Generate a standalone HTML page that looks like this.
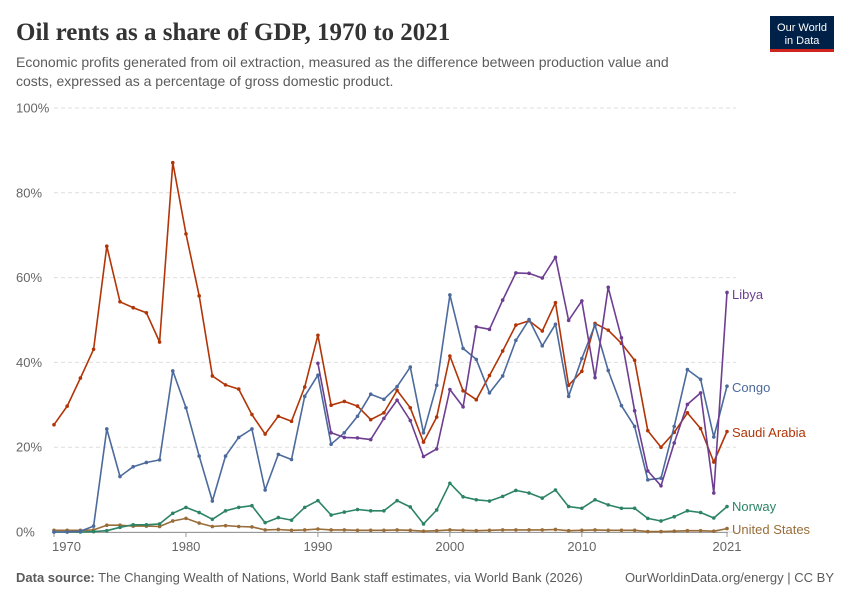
<!DOCTYPE html>
<html><head><meta charset="utf-8">
<style>
body{margin:0;background:#fff;width:850px;height:600px;overflow:hidden;font-family:"Liberation Sans",sans-serif;}
svg text{font-family:"Liberation Sans",sans-serif;}
</style></head>
<body>
<svg id="chart" width="850" height="600" viewBox="0 0 850 600">
<text x="16" y="40" font-size="25" fill="#333" font-weight="bold" style="font-family:'Liberation Serif',serif">Oil rents as a share of GDP, 1970 to 2021</text>
<text x="16" y="67" font-size="14" fill="#5b5b5b">Economic profits generated from oil extraction, measured as the difference between production value and</text>
<text x="16" y="86" font-size="14" fill="#5b5b5b">costs, expressed as a percentage of gross domestic product.</text>
<g>
<rect x="770" y="16" width="64" height="35" fill="#002147"/>
<rect x="770" y="49" width="64" height="3" fill="#ce261e"/>
<text x="802" y="31" font-size="11" fill="#fff" text-anchor="middle">Our World</text>
<text x="802" y="44" font-size="11" fill="#fff" text-anchor="middle">in Data</text>
</g>
<g id="grid"></g>
<g id="series"></g>
<text x="16" y="582" font-size="13" fill="#5b5b5b"><tspan font-weight="bold">Data source:</tspan> The Changing Wealth of Nations, World Bank staff estimates, via World Bank (2026)</text>
<text x="834" y="582" font-size="13" fill="#5b5b5b" text-anchor="end">OurWorldinData.org/energy | CC BY</text>
</svg>
<script>
const years = Array.from({length:52},(_,i)=>1970+i);
const saudi = [25.3,29.7,36.3,43.1,67.4,54.3,52.9,51.7,44.8,87.1,70.3,55.7,36.8,34.7,33.7,27.7,23.1,27.3,26.1,34.2,46.4,29.9,30.8,29.7,26.5,28.1,33.4,29.3,21.2,27.1,41.5,33.3,31.2,36.9,42.7,48.8,49.8,47.4,54.1,34.6,37.9,49.2,47.6,44.5,40.5,23.9,20.0,23.5,28.1,24.4,16.5,23.7];
const congo = [0,0,0.2,1.4,24.3,13.1,15.4,16.4,17.0,38.0,29.3,17.9,7.3,17.9,22.3,24.3,9.9,18.3,17.1,32.0,37.0,20.7,23.4,27.3,32.5,31.3,34.3,38.9,23.4,34.6,55.9,43.3,40.7,32.8,36.8,45.2,50.1,43.9,49.0,32.0,40.9,48.8,38.1,29.8,24.9,12.3,12.7,24.9,38.3,36.0,22.4,34.4];
const libya = [null,null,null,null,null,null,null,null,null,null,null,null,null,null,null,null,null,null,null,null,39.8,23.4,22.3,22.2,21.8,26.8,31.1,26.3,17.8,19.6,33.6,29.5,48.4,47.8,54.7,61.1,61.0,59.9,64.8,49.9,54.5,36.4,57.7,45.8,28.6,14.4,10.9,21.0,30.1,32.8,9.2,56.5];
const norway = [0,0,0,0.1,0.3,1.1,1.7,1.7,1.9,4.4,5.8,4.6,3.0,5.0,5.8,6.2,2.2,3.4,2.8,5.8,7.4,4.0,4.7,5.3,5.0,5.0,7.4,5.9,1.9,5.2,11.5,8.3,7.6,7.3,8.4,9.8,9.2,8.0,9.9,6.0,5.6,7.6,6.4,5.6,5.6,3.2,2.6,3.6,5.0,4.6,3.3,6.0];
const usa = [0.4,0.4,0.4,0.5,1.6,1.6,1.4,1.4,1.3,2.6,3.2,2.1,1.3,1.5,1.3,1.2,0.5,0.6,0.4,0.5,0.7,0.5,0.5,0.4,0.4,0.4,0.5,0.4,0.2,0.3,0.5,0.4,0.3,0.4,0.5,0.5,0.5,0.5,0.6,0.3,0.4,0.5,0.4,0.4,0.4,0.1,0.1,0.2,0.3,0.3,0.2,0.8];
const yTicks = [0,20,40,60,80,100];
const xTicks = [1970,1980,1990,2000,2010,2021];
const seriesNames = ["Libya","Congo","Saudi Arabia","Norway","United States"];
const seriesColors = ["#6d3e91","#4c6a9c","#b13507","#2c8465","#996d39"];
const seriesData = [libya,congo,saudi,norway,usa];
const labelY = [295,388,433,507,530];

const NS="http://www.w3.org/2000/svg";
const X=y=>54+(y-1970)*(727-54)/51;
const Y=v=>532-v*4.24;
function mk(tag,attrs,parent){const e=document.createElementNS(NS,tag);for(const k in attrs)e.setAttribute(k,attrs[k]);parent.appendChild(e);return e;}
const grid=document.getElementById('grid'), ser=document.getElementById('series');
yTicks.forEach(t=>{
  const l=mk('line',{x1:54,x2:736,y1:Y(t),y2:Y(t),stroke:'#ddd','stroke-dasharray':t===0?'':'4,3'},grid);
  
  
  const tx=mk('text',{x:16,y:Y(t)+4.5,'font-size':13,fill:'#666'},grid);
  tx.textContent=t+'%';
  
  
});
mk('line',{x1:52,x2:728,y1:532.5,y2:532.5,stroke:'#999'},grid);
xTicks.forEach(t=>{
  const tk=mk('line',{x1:X(t),x2:X(t),y1:532,y2:537,stroke:'#999'},grid);
  
  
  const tx=mk('text',{x:X(t),y:551,'font-size':13,fill:'#666','text-anchor':t===1970?'start':'middle'},grid);
  if(t===1970)tx.setAttribute('x',X(t)-2);
  tx.textContent=t;
  
  
});
for(let s=seriesData.length-1;s>=0;s--){
  const d=seriesData[s],c=seriesColors[s];
  let pts=[];
  d.forEach((v,i)=>{if(v!==null)pts.push(X(years[i]).toFixed(1)+','+Y(v).toFixed(1));});
  const pl=mk('polyline',{points:pts.join(' '),fill:'none',stroke:c,'stroke-width':1.6,'stroke-linejoin':'round'},ser);
  
  
  d.forEach((v,i)=>{if(v===null)return;
    const p=mk('circle',{cx:X(years[i]),cy:Y(v),r:1.8,fill:c},ser);
    
    
  });
  const lb=mk('text',{x:732,y:labelY[s]+4,'font-size':13,fill:c},ser);
  lb.textContent=seriesNames[s];
  
  
}
</script>
</body></html>
